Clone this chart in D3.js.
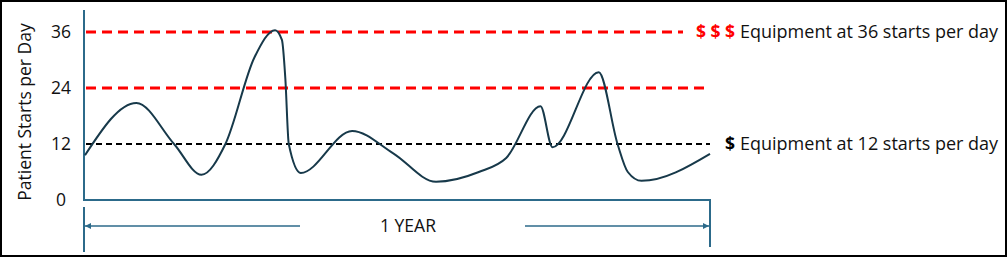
<!DOCTYPE html>
<html>
<head>
<meta charset="utf-8">
<script src="https://cdn.jsdelivr.net/npm/d3@7"></script>
<style>
  body { margin: 0; background: #fff; }
  text { font-family: "Open Sans", "Liberation Sans", Arial, sans-serif; }
</style>
</head>
<body>
<script>
// day of year vs patient starts
var days   = [0, 30, 52, 68, 82, 99, 111, 115, 117, 119, 126, 156, 180, 205, 230, 246, 266, 273, 300, 311, 317, 325, 365];
var starts = [9.6, 20.8, 12, 5.4, 12, 30.6, 36.4, 34.3, 26, 12, 5.8, 14.8, 10, 3.9, 6, 9, 20.1, 11.3, 27.4, 12, 6, 4.1, 9.9];
var yTicks = [0, 12, 24, 36];
var thresholds = [
  { value: 36, color: "#ff0000", sign: "$ $ $", label: "Equipment at 36 starts per day" },
  { value: 24, color: "#ff0000", sign: "", label: "" },
  { value: 12, color: "#000000", sign: "$", label: "Equipment at 12 starts per day" }
];

var W = 1008, H = 258;
var x0 = 85, x1 = 710, yBase = 200;

var svg = d3.select("body").append("svg")
  .attr("width", W).attr("height", H);

svg.append("rect")
  .attr("x", 1).attr("y", 1).attr("width", W - 3).attr("height", H - 3)
  .attr("fill", "none").attr("stroke", "#000").attr("stroke-width", 2);

var x = d3.scaleLinear().domain([0, 365]).range([x0, x1]);
var y = d3.scaleLinear().domain([0, 36]).range([yBase, 32]);

var axisColor = "#2c6a8a";

// y axis + x axis lines
svg.append("line").attr("x1", x0 - 1).attr("x2", x0 - 1).attr("y1", 10).attr("y2", yBase + 1)
  .attr("stroke", axisColor).attr("stroke-width", 2);
svg.append("line").attr("x1", x0 - 2).attr("x2", x1 + 1).attr("y1", yBase).attr("y2", yBase)
  .attr("stroke", axisColor).attr("stroke-width", 2);

svg.selectAll(".ytick").data(yTicks).enter().append("text")
  .attr("x", 61).attr("y", function(d) { return y(d); })
  .attr("dy", "0.36em")
  .attr("text-anchor", "middle")
  .attr("font-size", 17.5).attr("fill", "#111")
  .text(function(d) { return d; });

svg.append("text")
  .attr("transform", "translate(31,112) rotate(-90)")
  .attr("text-anchor", "middle")
  .attr("font-size", 17.5).attr("fill", "#111")
  .text("Patient Starts per Day");

// threshold lines
thresholds.forEach(function(t) {
  var red = t.color !== "#000000";
  var xe = t.label && red ? 683 : x1;
  svg.append("line")
    .attr("x1", x0 + 1).attr("x2", xe)
    .attr("y1", y(t.value)).attr("y2", y(t.value))
    .attr("stroke", t.color)
    .attr("stroke-width", red ? 3 : 1.8)
    .attr("stroke-dasharray", red ? "10,6" : "6,4");
  if (t.label) {
    svg.append("text")
      .attr("x", 735).attr("y", y(t.value)).attr("dy", "0.36em")
      .attr("text-anchor", "end")
      .attr("font-size", 17.5).attr("font-weight", "bold").attr("fill", t.color)
      .text(t.sign);
    svg.append("text")
      .attr("x", 740).attr("y", y(t.value)).attr("dy", "0.36em")
      .attr("font-size", 18).attr("fill", "#111")
      .text(t.label);
  }
});

// the curve
var line = d3.line()
  .x(function(d) { return x(d[0]); })
  .y(function(d) { return y(d[1]); })
  .curve(d3.curveMonotoneX);

svg.append("path")
  .datum(d3.zip(days, starts))
  .attr("d", line)
  .attr("fill", "none")
  .attr("stroke", "#17394a")
  .attr("stroke-width", 2);

// 1 YEAR bracket
svg.append("line").attr("x1", x0 - 1).attr("x2", x0 - 1).attr("y1", 207).attr("y2", 252)
  .attr("stroke", axisColor).attr("stroke-width", 2);
svg.append("line").attr("x1", x1).attr("x2", x1).attr("y1", yBase).attr("y2", 247)
  .attr("stroke", axisColor).attr("stroke-width", 2);

svg.append("defs").append("marker")
  .attr("id", "arr").attr("viewBox", "0 0 10 10")
  .attr("refX", 10).attr("refY", 5)
  .attr("markerWidth", 4).attr("markerHeight", 4)
  .attr("orient", "auto-start-reverse")
  .append("path").attr("d", "M0,0L10,5L0,10z").attr("fill", axisColor);

svg.append("line").attr("x1", 300).attr("x2", x0).attr("y1", 226).attr("y2", 226)
  .attr("stroke", axisColor).attr("stroke-width", 1.5).attr("marker-end", "url(#arr)");
svg.append("line").attr("x1", 525).attr("x2", x1 - 1).attr("y1", 226).attr("y2", 226)
  .attr("stroke", axisColor).attr("stroke-width", 1.5).attr("marker-end", "url(#arr)");

svg.append("text")
  .attr("x", 408).attr("y", 226).attr("dy", "0.36em")
  .attr("text-anchor", "middle")
  .attr("font-size", 17.5).attr("fill", "#111")
  .text("1 YEAR");
</script>
</body>
</html>
